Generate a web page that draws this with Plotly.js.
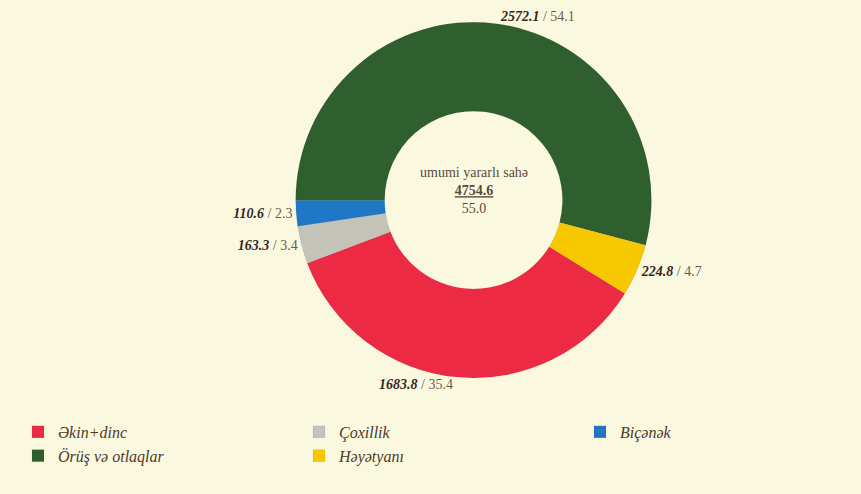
<!DOCTYPE html>
<html>
<head>
<meta charset="utf-8">
<script src="https://cdn.plot.ly/plotly-3.0.1.min.js"></script>
<style>html,body{margin:0;padding:0;background:#fbf8e0;}#chart{width:861px;height:494px;}</style>
</head>
<body>
<div id="chart"></div>
<script>
const categories = ["Əkin+dinc", "Çoxillik", "Biçənək", "Örüş və otlaqlar", "Həyətyanı"];
const values = [1683.8, 163.3, 110.6, 2572.1, 224.8];
const shares = [35.4, 3.4, 2.3, 54.1, 4.7];
const colors = ["#ec2a44", "#c3c3b9", "#1f78c6", "#2f5e2f", "#f7c800"];
const totalLabel = "umumi yararlı sahə";
const totalValue = 4754.6;
const totalShare = 55.0;

const SERIF = "Liberation Serif";

const labelText = values.map((v, i) =>
  "<b><i>" + v.toFixed(1) + "</i></b><span style=\"color:#6b5c4a\"> / " + shares[i].toFixed(1) + "</span>");

const trace = {
  type: "pie",
  labels: categories,
  values: values,
  customdata: labelText,
  texttemplate: "%{customdata}",
  textposition: "outside",
  textfont: {family: SERIF, size: 14, color: "#34281b"},
  hoverinfo: "label+value",
  sort: false,
  direction: "clockwise",
  rotation: 121.7,
  hole: 0.5,
  marker: {colors: colors, line: {color: "rgba(0,0,0,0.12)", width: 0.5}},
  domain: {x: [0.2, 0.9], y: [0.235, 0.955]},
  automargin: false
};

const layout = {
  width: 861, height: 494,
  margin: {l: 0, r: 0, t: 0, b: 0},
  paper_bgcolor: "#fbf8e0",
  plot_bgcolor: "#fbf8e0",
  showlegend: true,
  legend: {
    orientation: "h",
    x: 0.03, xanchor: "left",
    y: 0.16, yanchor: "top",
    entrywidth: 236,
    entrywidthmode: "pixels",
    traceorder: "normal",
    font: {family: SERIF, size: 16, color: "#4a3a2a", style: "italic"},
    bgcolor: "rgba(0,0,0,0)",
    itemwidth: 30,
    tracegroupgap: 0
  },
  annotations: [
    {
      x: 0.55, y: 0.615, xref: "paper", yref: "paper",
      showarrow: false, align: "center",
      text: totalLabel + "<br><b><u>" + totalValue.toFixed(1) + "</u></b><br>" + totalShare.toFixed(1),
      font: {family: SERIF, size: 14, color: "#5a4a3a"}
    }
  ]
};

Plotly.newPlot("chart", [trace], layout, {displayModeBar: false, staticPlot: true});
</script>
</body>
</html>
